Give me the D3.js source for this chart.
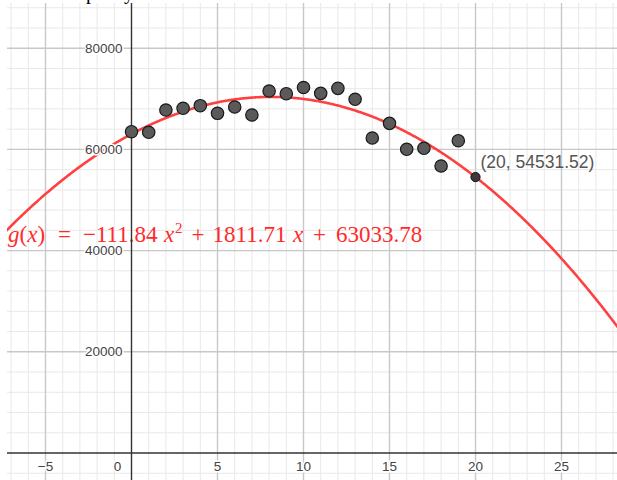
<!DOCTYPE html>
<html>
<head>
<meta charset="utf-8">
<script src="https://cdn.jsdelivr.net/npm/d3@7"></script>
<style>
  html, body { margin: 0; padding: 0; background: #fff; }
  svg { display: block; }
</style>
</head>
<body>
<svg id="chart" width="617" height="480"></svg>
<script>
// Observed values (index → value)
const xValues = [0, 1, 2, 3, 4, 5, 6, 7, 8, 9, 10, 11, 12, 13, 14, 15, 16, 17, 18, 19];
const yValues = [63500, 63380, 67790, 68120, 68640, 67130, 68380, 66800, 71540, 71010,
                 72230, 71080, 72070, 69900, 62250, 65150, 60020, 60220, 56720, 61720];

// Fitted quadratic g(x) = a x^2 + b x + c
const coefficients = [-111.84, 1811.71, 63033.78];

// Evaluated point on the fit
const markedPoint = [20, 54531.52];

// Axis tick labels
const xTickValues = [-5, 0, 5, 10, 15, 20, 25];
const yTickValues = [20000, 40000, 60000, 80000];

const W = 617, H = 480;
const plot = { left: 7, top: 3, right: 617, bottom: 480 };

const svg = d3.select("#chart");

const x = d3.scaleLinear().domain([0, 20]).range([131.5, 475.5]);
const y = d3.scaleLinear().domain([0, 80000]).range([453, 48.2]);

const xMin = x.invert(plot.left), xMax = x.invert(plot.right);
const yMin = y.invert(plot.bottom), yMax = y.invert(plot.top);

svg.append("defs").append("clipPath").attr("id", "plotClip")
  .append("rect")
  .attr("x", plot.left).attr("y", plot.top)
  .attr("width", plot.right - plot.left).attr("height", plot.bottom - plot.top);

const g = svg.append("g").attr("clip-path", "url(#plotClip)");

// Grid: minor every 1 unit / 4000, major every 5 units / 20000
const xMinor = d3.range(Math.ceil(xMin), Math.floor(xMax) + 1);
const yMinor = d3.range(Math.ceil(yMin / 4000) * 4000, yMax + 1, 4000);

g.append("g").selectAll("line").data(xMinor.filter(d => d % 5 !== 0)).join("line")
  .attr("x1", d => x(d)).attr("x2", d => x(d))
  .attr("y1", plot.top).attr("y2", plot.bottom)
  .attr("stroke", "#e8e8e8").attr("stroke-width", 1);
g.append("g").selectAll("line").data(yMinor.filter(d => d % 20000 !== 0)).join("line")
  .attr("y1", d => y(d)).attr("y2", d => y(d))
  .attr("x1", plot.left).attr("x2", plot.right)
  .attr("stroke", "#e8e8e8").attr("stroke-width", 1);
g.append("g").selectAll("line").data(xMinor.filter(d => d % 5 === 0 && d !== 0)).join("line")
  .attr("x1", d => x(d)).attr("x2", d => x(d))
  .attr("y1", plot.top).attr("y2", plot.bottom)
  .attr("stroke", "#c8c8c8").attr("stroke-width", 1.4);
g.append("g").selectAll("line").data(yMinor.filter(d => d % 20000 === 0 && d !== 0)).join("line")
  .attr("y1", d => y(d)).attr("y2", d => y(d))
  .attr("x1", plot.left).attr("x2", plot.right)
  .attr("stroke", "#c8c8c8").attr("stroke-width", 1.4);

// Fitted curve
const fit = v => coefficients[0] * v * v + coefficients[1] * v + coefficients[2];
const samples = d3.range(xMin - 1, xMax + 1, 0.05);
g.append("path")
  .datum(samples)
  .attr("d", d3.line().x(d => x(d)).y(d => y(fit(d))))
  .attr("fill", "none")
  .attr("stroke", "#ff4040")
  .attr("stroke-width", 2.6);

// Equation label, typeset piece by piece
const fmtCoef = v => (v < 0 ? "\u2212" : "") + Math.abs(v).toFixed(2);
const eqPieces = [
  { x: 8,     text: "g", italic: true },
  { x: null,  text: "(" },
  { x: null,  text: "x", italic: true },
  { x: null,  text: ")" },
  { x: 58,    text: "=" },
  { x: 83,    text: fmtCoef(coefficients[0]) },
  { x: 164,   text: "x", italic: true },
  { x: 175,   text: "2", sup: true },
  { x: 191.5, text: "+" },
  { x: 212.5, text: fmtCoef(coefficients[1]) },
  { x: 293,   text: "x", italic: true },
  { x: 313,   text: "+" },
  { x: 336,   text: fmtCoef(coefficients[2]) }
];
const eq = g.append("text")
  .attr("y", 242)
  .attr("font-family", "'Liberation Serif', 'DejaVu Serif', serif")
  .attr("font-size", 23)
  .attr("fill", "#ff2a2a");
let prevSup = false;
eqPieces.forEach(p => {
  const t = eq.append("tspan").text(p.text);
  if (p.x !== null) t.attr("x", p.x);
  if (p.italic) t.attr("font-style", "italic");
  if (p.sup) { t.attr("font-size", 15).attr("dy", -9); prevSup = true; }
  else if (prevSup) { t.attr("dy", 9); prevSup = false; }
});

// Axes
g.append("line")
  .attr("x1", plot.left).attr("x2", plot.right)
  .attr("y1", y(0)).attr("y2", y(0))
  .attr("stroke", "#333").attr("stroke-width", 1.4);
g.append("line")
  .attr("x1", x(0)).attr("x2", x(0))
  .attr("y1", plot.top).attr("y2", plot.bottom)
  .attr("stroke", "#333").attr("stroke-width", 1.4);

// Tick labels with white halo
const fmtX = d => d < 0 ? "\u2212" + Math.abs(d) : String(d);
g.append("g").selectAll("text").data(xTickValues).join("text")
  .attr("x", d => d === 0 ? x(0) - 14 : x(d))
  .attr("y", y(0) + 14)
  .attr("dominant-baseline", "middle")
  .attr("text-anchor", "middle")
  .attr("font-family", "'Liberation Sans', Arial, sans-serif")
  .attr("font-size", 13.5)
  .attr("fill", "#444")
  .attr("stroke", "#fff").attr("stroke-width", 3).attr("paint-order", "stroke")
  .text(fmtX);

g.append("g").selectAll("text").data(yTickValues).join("text")
  .attr("x", x(0) - 9)
  .attr("y", d => y(d) + 1)
  .attr("dominant-baseline", "middle")
  .attr("text-anchor", "end")
  .attr("font-family", "'Liberation Sans', Arial, sans-serif")
  .attr("font-size", 13.5)
  .attr("fill", "#444")
  .attr("stroke", "#fff").attr("stroke-width", 3).attr("paint-order", "stroke")
  .text(d => String(d));

// Data points
g.append("g").selectAll("circle").data(xValues.map((d, i) => [d, yValues[i]])).join("circle")
  .attr("cx", d => x(d[0])).attr("cy", d => y(d[1]))
  .attr("r", 6.2)
  .attr("fill", "#5a5a5a")
  .attr("stroke", "#1a1a1a")
  .attr("stroke-width", 1.2);

// Evaluated point and its label
g.append("circle")
  .attr("cx", x(markedPoint[0])).attr("cy", y(markedPoint[1]))
  .attr("r", 4.6)
  .attr("fill", "#3a3a3a")
  .attr("stroke", "#111")
  .attr("stroke-width", 1);
g.append("text")
  .attr("x", x(markedPoint[0]) + 5)
  .attr("y", y(markedPoint[1]) - 9)
  .attr("font-family", "'Liberation Sans', Arial, sans-serif")
  .attr("font-size", 17.5)
  .attr("fill", "#555")
  .text(`(${markedPoint[0]}, ${markedPoint[1].toFixed(2)})`);

// Heading line above the graphics view (mostly out of frame)
const head = svg.append("text")
  .attr("y", -1)
  .attr("font-family", "'Liberation Serif', serif")
  .attr("font-size", 20)
  .attr("fill", "#000");
head.append("tspan").attr("x", 86).text("p");
head.append("tspan").attr("x", 124).text("y");
</script>
</body>
</html>
